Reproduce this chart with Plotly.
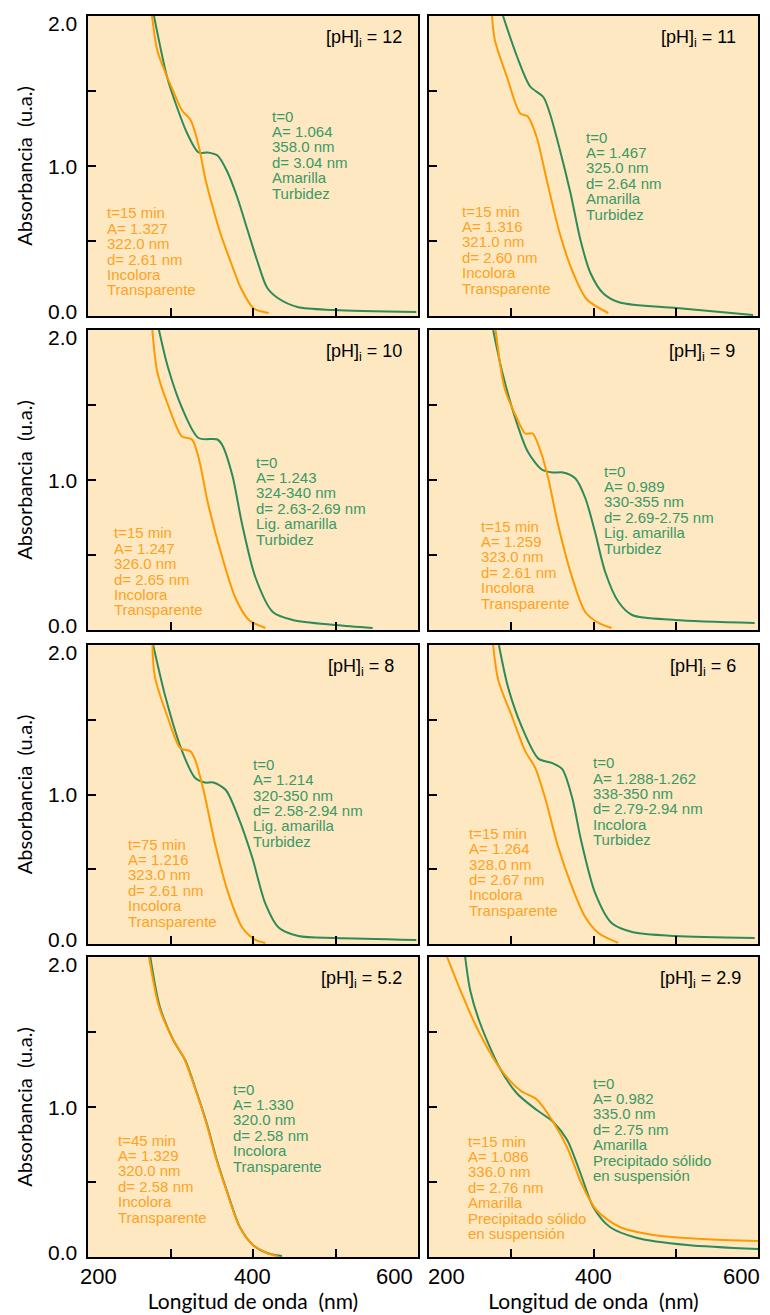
import plotly.graph_objects as go

# ---------------- data ----------------
ph_labels = ["12", "11", "10", "9", "8", "6", "5.2", "2.9"]

# green = t=0 spectra ; orange = later time spectra  (wavelength nm, absorbance)
g_wl = [
    [280, 296, 308, 320, 334, 345, 357, 369, 381, 393, 405, 417, 430, 454, 498, 598],
    [290, 307, 323, 339, 347, 359, 372, 384, 396, 412, 432, 501, 594],
    [286, 297, 314, 334, 357, 363, 375, 387, 403, 424, 448, 500, 545],
    [278, 289, 305, 320, 337, 350, 363, 378, 390, 402, 414, 430, 447, 499, 596],
    [279, 294, 314, 330, 342, 352, 367, 382, 399, 415, 431, 455, 500, 598],
    [285, 296, 313, 333, 350, 362, 374, 385, 402, 422, 447, 499, 596],
    [275.5, 287, 303, 318, 331, 344, 356, 369, 384, 400, 417, 435],
    [244, 250, 262, 286, 307, 331, 351, 368, 384, 400, 420, 453, 514, 600],
]
g_abs = [
    [2.0, 1.59, 1.39, 1.22, 1.09, 1.09, 1.07, 0.96, 0.79, 0.58, 0.37, 0.19, 0.12, 0.06, 0.04, 0.027],
    [2.0, 1.73, 1.53, 1.46, 1.35, 1.11, 0.82, 0.51, 0.29, 0.15, 0.09, 0.053, 0.007],
    [2.0, 1.75, 1.48, 1.28, 1.27, 1.23, 1.03, 0.70, 0.35, 0.12, 0.067, 0.033, 0.013],
    [2.0, 1.72, 1.41, 1.19, 1.07, 1.05, 1.05, 1.01, 0.88, 0.65, 0.39, 0.19, 0.10, 0.067, 0.047],
    [2.0, 1.65, 1.29, 1.11, 1.08, 1.08, 1.03, 0.85, 0.58, 0.27, 0.11, 0.053, 0.04, 0.027],
    [2.0, 1.72, 1.45, 1.24, 1.21, 1.17, 0.98, 0.69, 0.34, 0.14, 0.08, 0.053, 0.04],
    [2.0, 1.67, 1.45, 1.31, 1.11, 0.89, 0.65, 0.43, 0.20, 0.08, 0.027, 0.007],
    [2.0, 1.78, 1.56, 1.26, 1.09, 0.98, 0.90, 0.78, 0.56, 0.33, 0.20, 0.127, 0.08, 0.053],
]
o_wl = [
    [277.6, 284, 294, 304, 314, 324, 330, 336, 342, 351, 360, 373, 385, 401, 419],
    [276.6, 280, 295, 311, 320, 331, 343, 359, 375, 392, 418],
    [278, 284, 297, 314, 326, 334, 346, 363, 379, 395, 415],
    [281, 292, 307, 317, 326, 337, 345, 357, 374, 390, 406, 422],
    [278, 281, 297, 312, 324, 330, 340, 354, 370, 387, 403, 415],
    [278, 284, 301, 317, 329, 341, 357, 374, 390, 406, 430],
    [274, 286, 302, 316, 330, 343, 355, 368, 383, 399, 415, 430],
    [222, 238, 258, 286, 311, 331, 351, 368, 387, 404, 432, 473, 533, 600],
]
o_abs = [
    [2.0, 1.77, 1.62, 1.49, 1.37, 1.31, 1.22, 1.09, 0.92, 0.73, 0.56, 0.36, 0.19, 0.05, 0.02],
    [2.0, 1.84, 1.59, 1.35, 1.33, 1.19, 0.91, 0.55, 0.29, 0.11, 0.02],
    [2.0, 1.72, 1.50, 1.29, 1.27, 1.15, 0.83, 0.48, 0.21, 0.067, 0.013],
    [2.0, 1.61, 1.41, 1.31, 1.31, 1.17, 1.01, 0.70, 0.35, 0.12, 0.047, 0.013],
    [2.0, 1.79, 1.51, 1.31, 1.29, 1.23, 1.03, 0.67, 0.34, 0.11, 0.027, 0.007],
    [2.0, 1.77, 1.52, 1.29, 1.18, 0.98, 0.65, 0.38, 0.18, 0.073, 0.007],
    [2.0, 1.67, 1.46, 1.33, 1.12, 0.90, 0.66, 0.44, 0.21, 0.085, 0.03, 0.005],
    [2.0, 1.78, 1.53, 1.26, 1.11, 1.05, 0.90, 0.73, 0.47, 0.31, 0.20, 0.147, 0.12, 0.107],
]

g_text = [
    ["t=0", "A= 1.064", "358.0 nm", "d= 3.04 nm", "Amarilla", "Turbidez"],
    ["t=0", "A= 1.467", "325.0 nm", "d= 2.64 nm", "Amarilla", "Turbidez"],
    ["t=0", "A= 1.243", "324-340 nm", "d= 2.63-2.69 nm", "Lig. amarilla", "Turbidez"],
    ["t=0", "A= 0.989", "330-355 nm", "d= 2.69-2.75 nm", "Lig. amarilla", "Turbidez"],
    ["t=0", "A= 1.214", "320-350 nm", "d= 2.58-2.94 nm", "Lig. amarilla", "Turbidez"],
    ["t=0", "A= 1.288-1.262", "338-350 nm", "d= 2.79-2.94 nm", "Incolora", "Turbidez"],
    ["t=0", "A= 1.330", "320.0 nm", "d= 2.58 nm", "Incolora", "Transparente"],
    ["t=0", "A= 0.982", "335.0 nm", "d= 2.75 nm", "Amarilla", "Precipitado sólido", "en suspensión"],
]
o_text = [
    ["t=15 min", "A= 1.327", "322.0 nm", "d= 2.61 nm", "Incolora", "Transparente"],
    ["t=15 min", "A= 1.316", "321.0 nm", "d= 2.60 nm", "Incolora", "Transparente"],
    ["t=15 min", "A= 1.247", "326.0 nm", "d= 2.65 nm", "Incolora", "Transparente"],
    ["t=15 min", "A= 1.259", "323.0 nm", "d= 2.61 nm", "Incolora", "Transparente"],
    ["t=75 min", "A= 1.216", "323.0 nm", "d= 2.61 nm", "Incolora", "Transparente"],
    ["t=15 min", "A= 1.264", "328.0 nm", "d= 2.67 nm", "Incolora", "Transparente"],
    ["t=45 min", "A= 1.329", "320.0 nm", "d= 2.58 nm", "Incolora", "Transparente"],
    ["t=15 min", "A= 1.086", "336.0 nm", "d= 2.76 nm", "Amarilla", "Precipitado sólido", "en suspensión"],
]

x_ticks = [200, 300, 400, 500, 600]
x_tick_text = ["200", "400", "600"]
y_ticks = [0, 0.5, 1.0, 1.5, 2.0]
y_tick_text = ["0.0", "1.0", "2.0"]

# ---------------- layout constants ----------------
g_pos = [(421, 1.333), (388, 1.193), (400.6, 1.12), (410, 1.06), (397, 1.20), (397, 1.213), (373, 1.12), (397, 1.16)]
o_pos = [(220.7, 0.687), (238, 0.70), (229, 0.647), (261, 0.693), (246, 0.667), (246, 0.74), (234, 0.78), (245, 0.773)]
ph_x = [583, 576, 583, 574, 573, 576, 583, 582]
x_lab_pos = [[213, 399, 572], [221, 400, 580]]
y_lab_pos = [0.028, 1.0, 1.95]

GREEN = "#2E8B57"
GREEN_T = "#3A9966"
ORANGE = "#FF9900"
ORANGE_T = "#FFA21F"
BG = "#FDE8C2"
LINE_DY = 15.4 * 2.0 / 300.0

W, H = 770, 1315
ml, mr, mt, mb = 88, 12, 16, 58
pw, ph = W - ml - mr, H - mt - mb
col_px = [(88, 418), (429, 758)]
row_px = [(16, 316), (330, 630), (645, 944), (957, 1257)]

fig = go.Figure()
layout = dict(
    width=W, height=H,
    margin=dict(l=ml, r=mr, t=mt, b=mb, autoexpand=False),
    paper_bgcolor="white", plot_bgcolor=BG,
    showlegend=False,
    font=dict(family="Arial, Liberation Sans", color="black"),
)
annotations = []

for i in range(8):
    r, c = divmod(i, 2)
    k = i + 1
    xa = "x" if k == 1 else f"x{k}"
    ya = "y" if k == 1 else f"y{k}"
    xk = "xaxis" if k == 1 else f"xaxis{k}"
    yk = "yaxis" if k == 1 else f"yaxis{k}"
    x0 = (col_px[c][0] - ml) / pw
    x1 = (col_px[c][1] - ml) / pw
    y0 = (H - mb - row_px[r][1]) / ph
    y1 = (H - mb - row_px[r][0]) / ph

    layout[xk] = dict(
        domain=[x0, x1], anchor=ya, range=[200, 600], automargin=False,
        tickvals=x_ticks, showticklabels=False,
        ticks="inside", ticklen=8, tickwidth=1.5, tickcolor="black",
        showline=True, linecolor="black", linewidth=2, mirror=True,
        showgrid=False, zeroline=False,
    )
    layout[yk] = dict(
        domain=[y0, y1], anchor=xa, range=[0, 2.0], automargin=False,
        tickvals=y_ticks, showticklabels=False,
        ticks="inside", ticklen=8, tickwidth=1.5, tickcolor="black",
        showline=True, linecolor="black", linewidth=2, mirror=True,
        showgrid=False, zeroline=False,
    )
    if c == 0:
        layout[yk]["title"] = dict(
            text="Absorbancia\u00a0 (u.a.)",
            font=dict(size=20, family="Lato, Arial", color="black"),
            standoff=48,
        )
        for val, txt in zip(y_lab_pos, y_tick_text):
            annotations.append(dict(
                x=0, y=val, xref=f"{xa} domain", yref=ya,
                text=txt, showarrow=False, xanchor="right", yanchor="middle",
                xshift=-9,
                font=dict(size=21, family="Arial, Liberation Sans", color="black"),
            ))
    if r == 3:
        layout[xk]["title"] = dict(
            text="Longitud de onda\u00a0 (nm)",
            font=dict(size=21, family="Lato, Arial", color="black"),
            standoff=36,
        )
        for val, txt in zip(x_lab_pos[c], x_tick_text):
            annotations.append(dict(
                x=val, y=-0.018, xref=xa, yref=f"{ya} domain",
                text=txt, showarrow=False, xanchor="center", yanchor="top",
                font=dict(size=22, family="Arial, Liberation Sans", color="black"),
            ))

    fig.add_trace(go.Scatter(
        x=g_wl[i], y=g_abs[i], mode="lines", xaxis=xa, yaxis=ya,
        line=dict(color=GREEN, width=2, shape="spline", smoothing=0.8),
    ))
    fig.add_trace(go.Scatter(
        x=o_wl[i], y=o_abs[i], mode="lines", xaxis=xa, yaxis=ya,
        line=dict(color=ORANGE, width=2, shape="spline", smoothing=0.8),
    ))

    for lines, pos, col in ((g_text[i], g_pos[i], GREEN_T), (o_text[i], o_pos[i], ORANGE_T)):
        for j, t in enumerate(lines):
            annotations.append(dict(
                x=pos[0], y=pos[1] - j * LINE_DY, xref=xa, yref=ya,
                text=t, showarrow=False, xanchor="left", yanchor="middle",
                font=dict(size=15, family="Arial, Liberation Sans", color=col),
            ))

    annotations.append(dict(
        x=ph_x[i], y=1.847, xref=xa, yref=ya,
        text=f"[pH]<sub>i</sub> = {ph_labels[i]}", showarrow=False,
        xanchor="right", yanchor="middle",
        font=dict(size=18, family="Arial, Liberation Sans", color="black"),
    ))

layout["annotations"] = annotations
fig.update_layout(**layout)
fig.write_html("out.html")
